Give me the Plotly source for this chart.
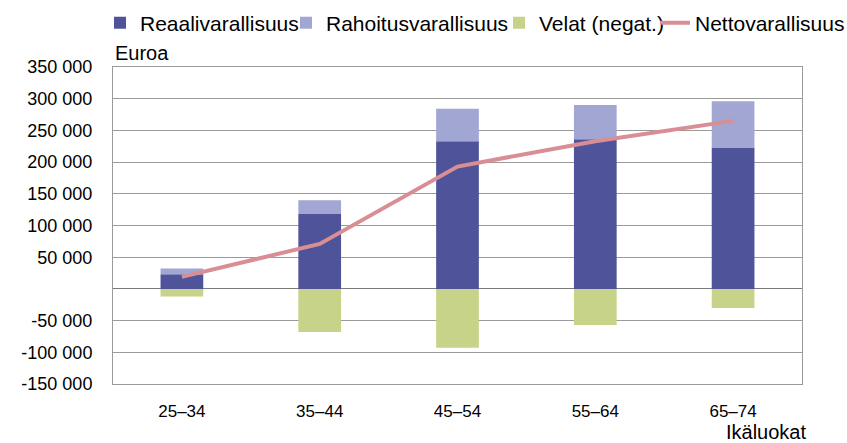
import plotly.graph_objects as go

age_groups = ["25–34", "35–44", "45–54", "55–64", "65–74"]
real_wealth = [23000, 118000, 233000, 236000, 223000]
financial_wealth = [9000, 22000, 51000, 54000, 73000]
debts = [-12000, -68000, -93000, -57000, -30000]
net_wealth = [19000, 71000, 193000, 233000, 265000]

y_ticks = [-150000, -100000, -50000, 0, 50000, 100000, 150000, 200000, 250000, 300000, 350000]
y_ticklabels = ["-150 000", "-100 000", "-50 000", "", "50 000", "100 000", "150 000",
                "200 000", "250 000", "300 000", "350 000"]

font = "Liberation Sans, Arial, sans-serif"
W, H = 847, 443

fig = go.Figure()
fig.add_trace(go.Bar(x=age_groups, y=real_wealth, name="Reaalivarallisuus",
                     marker=dict(color="#4F5399", line=dict(width=0)), legend="legend"))
fig.add_trace(go.Bar(x=age_groups, y=financial_wealth, name="Rahoitusvarallisuus",
                     marker=dict(color="#A2A6D3", line=dict(width=0)), legend="legend2"))
fig.add_trace(go.Bar(x=age_groups, y=debts, name="Velat (negat.)",
                     marker=dict(color="#C8D38A", line=dict(width=0)), legend="legend3"))
fig.add_trace(go.Scatter(x=age_groups, y=net_wealth, name="Nettovarallisuus", mode="lines",
                         line=dict(color="#D98E93", width=4), legend="legend4"))


def legend_at(px_left):
    # one legend box per entry, placed like the reference's tight single row
    return dict(orientation="h", xref="container", x=px_left / W, xanchor="left",
                yref="container", y=1 - 23 / H, yanchor="middle",
                font=dict(size=21), itemwidth=30, bgcolor="rgba(0,0,0,0)")


fig.update_layout(
    width=W, height=H,
    barmode="relative",
    bargap=0.69,
    plot_bgcolor="white",
    paper_bgcolor="white",
    font=dict(family=font, size=18, color="black"),
    margin=dict(l=113, r=45, t=67, b=59, autoexpand=False),
    showlegend=True,
    legend=legend_at(100),
    legend2=legend_at(286),
    legend3=legend_at(499),
    legend4=legend_at(655),
    annotations=[
        dict(text="Euroa", xref="paper", yref="paper", x=0.0, y=1.044,
             xanchor="left", yanchor="middle", showarrow=False, font=dict(size=20)),
        dict(text="Ikäluokat", xref="paper", yref="paper", x=1.0087, y=-0.151,
             xanchor="right", yanchor="middle", showarrow=False, font=dict(size=20)),
    ],
)
fig.update_xaxes(showline=True, linecolor="#9a9a9a", mirror=True, showgrid=False,
                 ticks="", tickfont=dict(size=17), ticklabelstandoff=12)
fig.update_yaxes(range=[-150000, 350000], tickvals=y_ticks, ticktext=y_ticklabels,
                 showline=True, linecolor="#9a9a9a", mirror=True,
                 showgrid=True, gridcolor="#9a9a9a", gridwidth=1,
                 zeroline=True, zerolinecolor="#7a7a7a", zerolinewidth=1,
                 ticks="", tickfont=dict(size=18), ticklabelstandoff=16)

# the page's default body margin would shift the figure by 8px
fig.write_html("out.html", config={"displayModeBar": False},
               post_script="document.body.style.margin='0';")
